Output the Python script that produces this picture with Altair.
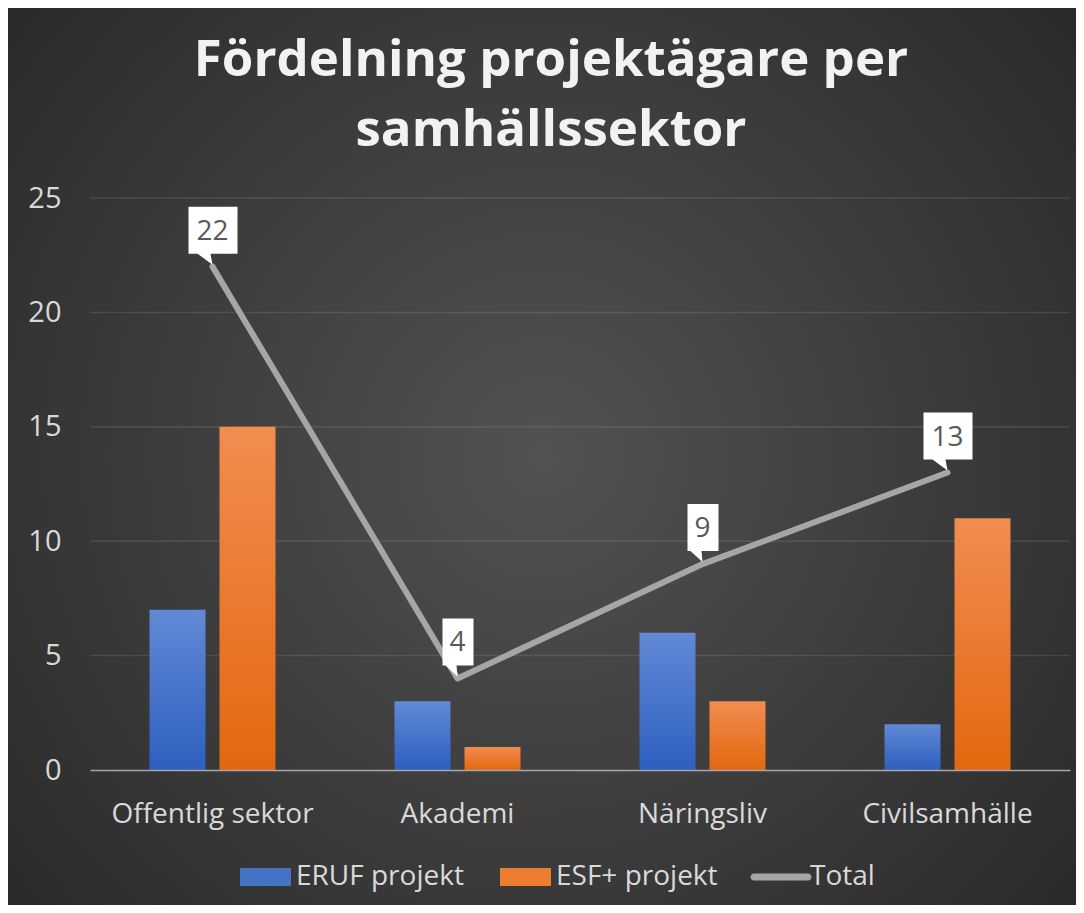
import altair as alt
import pandas as pd

# ---- data ----
categories = ["Offentlig sektor", "Akademi", "Näringsliv", "Civilsamhälle"]
eruf = [7, 3, 6, 2]
esf = [15, 1, 3, 11]
total = [22, 4, 9, 13]
series = ["ERUF projekt", "ESF+ projekt", "Total"]
y_ticks = [0, 5, 10, 15, 20, 25]

bars_df = pd.DataFrame(
    [{"category": c, "series": series[0], "value": v} for c, v in zip(categories, eruf)]
    + [{"category": c, "series": series[1], "value": v} for c, v in zip(categories, esf)]
)
total_df = pd.DataFrame({"category": categories, "total": total})
grid_df = pd.DataFrame({"tick": y_ticks[1:]})
legend_df = pd.DataFrame({"series": series})
bg_df = pd.DataFrame({"k": [0]})

# ---- styles ----
FONT = "Open Sans"
LABEL_COLOR = "#d9d9d9"
BLUE, ORANGE, GRAY = "#4472c4", "#ed7d31", "#a6a6a6"

blue_grad = alt.LinearGradient(
    gradient="linear", x1=0, y1=0, x2=0, y2=1,
    stops=[alt.GradientStop(offset=0, color="#6189d6"),
           alt.GradientStop(offset=1, color="#2e5fbf")])
orange_grad = alt.LinearGradient(
    gradient="linear", x1=0, y1=0, x2=0, y2=1,
    stops=[alt.GradientStop(offset=0, color="#f28c50"),
           alt.GradientStop(offset=1, color="#e2680f")])
bg_grad = alt.RadialGradient(
    gradient="radial", x1=0.5, y1=0.5, x2=0.5, y2=0.5, r1=0, r2=0.72,
    stops=[alt.GradientStop(offset=0, color="#525252"),
           alt.GradientStop(offset=1, color="#262626")])

W, H = 980, 572
PAD = {"left": 82, "top": 190, "right": 6, "bottom": 135}

x_scale = alt.Scale(domain=categories, paddingInner=0, paddingOuter=0)
y_scale = alt.Scale(domain=[0, 25], nice=False, zero=True)

X = alt.X("category:N", sort=categories, scale=x_scale, title=None,
          axis=alt.Axis(labelAngle=0, labelFont=FONT, labelFontSize=28, labelColor=LABEL_COLOR,
                        labelPadding=30, labelLimit=400, ticks=False, grid=False, domain=True,
                        domainColor="#a6a6a6", domainWidth=1.5, zindex=1))

# background
bg = alt.Chart(bg_df).mark_rect(fill=bg_grad).encode(
    x=alt.value(-PAD["left"]), x2=alt.value(W + PAD["right"]),
    y=alt.value(-PAD["top"]), y2=alt.value(H + PAD["bottom"]))

# grid lines
grid = alt.Chart(grid_df).mark_rule(color="white", opacity=0.1, strokeWidth=1.5).encode(
    y=alt.Y("tick:Q", scale=y_scale, title=None))

# bars
bars = alt.Chart(bars_df).mark_bar().encode(
    x=X,
    xOffset=alt.XOffset("series:N", sort=series[:2],
                        scale=alt.Scale(domain=series[:2], paddingInner=0.2, paddingOuter=0.85)),
    y=alt.Y("value:Q", scale=y_scale, title=None,
            axis=alt.Axis(values=y_ticks, labelFont=FONT, labelFontSize=29, labelColor=LABEL_COLOR,
                          labelPadding=29, ticks=False, grid=False, domain=False, zindex=1)),
    fill=alt.condition("datum.series === 'ERUF projekt'", alt.value(blue_grad), alt.value(orange_grad)),
)

# total line
line = alt.Chart(total_df).mark_line(color=GRAY, strokeWidth=6, strokeCap="round", strokeJoin="round").encode(
    x=alt.X("category:N", sort=categories, scale=x_scale, title=None),
    y=alt.Y("total:Q", scale=y_scale, title=None))

box2 = "M-24,-60 L25,-60 L25,-13 L-2,-13 L0,-2 L-15,-13 L-24,-13 Z"
box1 = "M-15,-60 L16,-60 L16,-13 L-1,-13 L0,-2 L-12,-13 L-15,-13 Z"

def callout(shape, test):
    return alt.Chart(total_df).transform_filter(test).mark_point(
        shape=shape, size=4, filled=True, fill="white", opacity=1, strokeWidth=0).encode(
        x=alt.X("category:N", sort=categories, scale=x_scale, title=None),
        y=alt.Y("total:Q", scale=y_scale, title=None))

boxes_big = callout(box2, "datum.total >= 10")
boxes_small = callout(box1, "datum.total < 10")

labels = alt.Chart(total_df).mark_text(dy=-35, baseline="middle", font=FONT, fontSize=28,
                                       color="#595959").encode(
    x=alt.X("category:N", sort=categories, scale=x_scale, title=None),
    y=alt.Y("total:Q", scale=y_scale, title=None),
    text=alt.Text("total:Q"))

# legend (invisible points carry the legend)
rect_sym = "M0,-9 L51,-9 L51,9 L0,9 Z"
line_sym = "M0,-3.5 L54,-3.5 A3.5,3.5 0 0 1 54,3.5 L0,3.5 A3.5,3.5 0 0 1 0,-3.5 Z"
leg = alt.Legend(title=None, orient="none", legendX=136, legendY=665, direction="horizontal",
                 columns=3, columnPadding=22, symbolSize=4, symbolStrokeWidth=0, symbolOpacity=1,
                 labelOffset=42, labelFont=FONT, labelFontSize=28, labelColor=LABEL_COLOR,
                 labelLimit=0)
legend_layer = alt.Chart(legend_df).mark_point(filled=True, opacity=0, size=4).encode(
    color=alt.Color("series:N", sort=series, scale=alt.Scale(domain=series, range=[BLUE, ORANGE, GRAY]),
                    legend=leg),
    shape=alt.Shape("series:N", sort=series, scale=alt.Scale(domain=series, range=[rect_sym, rect_sym, line_sym]),
                    legend=leg))

chart = alt.layer(bg, grid, bars, line, boxes_big, boxes_small, labels, legend_layer).properties(
    width=W, height=H,
    autosize=alt.AutoSizeParams(type="none"),
    padding=PAD,
    background="#2b2b2b",
    title=alt.TitleParams(
        text=["Fördelning projektägare per", "samhällssektor"],
        font=FONT, fontSize=51, fontWeight="bold", color="#f2f2f2",
        lineHeight=70, baseline="alphabetic", anchor="middle", frame="group",
        offset=-189, dx=-29),
).configure_view(stroke=None)

chart.save("out.html", embed_options={"renderer": "svg", "actions": False})
